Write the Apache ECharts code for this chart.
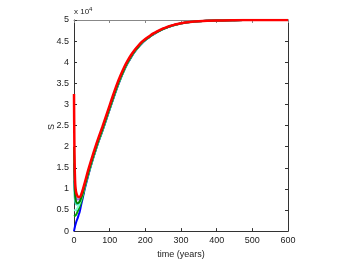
<!DOCTYPE html>
<html><head><meta charset="utf-8">
<script src="https://cdn.jsdelivr.net/npm/echarts@6/dist/echarts.min.js"></script>
<style>html,body{margin:0;padding:0;background:#fff}#c{width:350px;height:264px}</style>
</head><body><div id="c"></div>
<script>
var times = [0,1,2,3,4,6,8,10,13,16,20,25,30,40,50,60,70,80,90,100,110,120,130,140,150,160,170,180,190,200,210,220,230,240,250,260,270,280,290,300,325,350,400,450,500,550,600];
var blueS = [0,400,800,1200,1500,2100,2600,3000,3800,4600,6200,8000,9900,13200,16180,18910,21460,23800,26300,28800,31300,33740,35960,37940,39660,41140,42420,43500,44440,45220,45860,46460,46970,47420,47840,48180,48480,48750,48970,49170,49500,49690,49867,49945,49990,50000,50000];
var greenLowS = [3500,3550,3600,3650,3700,3900,4200,4600,5200,5900,6900,8400,10350,13415,16320,19040,21580,23925,26425,28925,31425,33860,36065,38035,39740,41210,42480,43550,44485,45255,45890,46490,46990,47440,47860,48195,48495,48760,48980,49180,49510,49695,49870,49945,49990,50000,50000];
var cyanS = [5000,5000,4950,4950,4950,5000,5200,5500,6000,6600,7500,8900,10500,13570,16460,19170,21700,24050,26550,29050,31550,33980,36170,38130,39820,41280,42540,43600,44530,45290,45920,46520,47015,47465,47880,48210,48510,48775,48990,49190,49514,49700,49870,49945,49990,50000,50000];
var aquaS = [12000,9500,8000,7200,6800,6400,6300,6350,6600,7000,7800,9200,10740,13820,16684,19378,21892,24250,26750,29250,31750,34172,36338,38282,39948,41392,42636,43680,44602,45346,45968,46568,47051,47501,47912,48234,48534,48795,49006,49206,49524,49705,49873,49948,49990,50000,50000];
var purpleS = [16000,12500,10200,9000,8300,7800,7600,7500,7500,7700,8300,9600,11040,14128,16964,19638,22132,24500,27000,29500,32000,34412,36548,38472,40108,41532,42756,43780,44692,45416,46028,46628,47096,47546,47952,48264,48564,48820,49026,49226,49536,49712,49876,49950,49990,50000,50000];
var greenHighS = [20000,14000,10500,8800,7800,7000,6700,6600,6700,7000,7800,9100,10650,13725,16600,19300,21820,24175,26675,29175,31675,34100,36275,38225,39900,41350,42600,43650,44575,45325,45950,46550,47037,47487,47900,48225,48525,48787,49000,49200,49520,49702,49872,49947,49990,50000,50000];
var redS = [32500,21000,15000,12000,10500,9200,8600,8250,8050,8050,8600,9900,11400,14500,17300,19950,22420,24800,27300,29800,32300,34700,36800,38700,40300,41700,42900,43900,44800,45500,46100,46700,47150,47600,48000,48300,48600,48850,49050,49250,49550,49720,49880,49950,49990,50000,50000];
var xTicks = [0,100,200,300,400,500,600];
var yTicks = [0,5000,10000,15000,20000,25000,30000,35000,40000,45000,50000];

function pairs(v){ return times.map(function(t,i){ return [t, v[i]]; }); }
function ser(v, color, w){
  return {type:'line', data:pairs(v), showSymbol:false, smooth:0.3,
    lineStyle:{color:color, width:w}, itemStyle:{color:color}, animation:false, z:2};
}
var font = 'Liberation Sans, Arial, sans-serif';
var axisCol = '#333';
var chart = echarts.init(document.getElementById('c'));
chart.setOption({
  animation:false,
  grid:{left:74, right:62, top:20, bottom:30},
  xAxis:[{type:'value', min:0, max:600, interval:100, position:'bottom',
      name:'time (years)', nameLocation:'middle', nameGap:18,
      nameTextStyle:{fontFamily:font, fontSize:9, color:'#222'},
      axisLine:{show:true, lineStyle:{color:axisCol}},
      axisTick:{show:true, inside:true, length:3, lineStyle:{color:axisCol}},
      axisLabel:{fontFamily:font, fontSize:9, color:'#222', margin:5},
      splitLine:{show:false}},
    {type:'value', min:0, max:600, interval:100, position:'top',
      axisLine:{show:true, onZero:false, lineStyle:{color:'#888'}},
      axisTick:{show:true, inside:true, length:3, lineStyle:{color:'#888'}},
      axisLabel:{show:false}, splitLine:{show:false}}],
  yAxis:[{type:'value', min:0, max:50000, interval:5000, position:'left',
      axisLine:{show:true, lineStyle:{color:axisCol}},
      axisTick:{show:true, inside:true, length:3, lineStyle:{color:axisCol}},
      axisLabel:{fontFamily:font, fontSize:9, color:'#222', margin:5,
        formatter:function(v){ return String(v/10000); }},
      splitLine:{show:false}},
    {type:'value', min:0, max:50000, interval:5000, position:'right',
      axisLine:{show:true, onZero:false, lineStyle:{color:axisCol}},
      axisTick:{show:true, inside:true, length:3, lineStyle:{color:axisCol}},
      axisLabel:{show:false}, splitLine:{show:false}}],
  graphic:[{type:'text', left:74, top:6,
    style:{text:'{a|x 10}{b|4}', rich:{a:{fontFamily:font, fontSize:8, fill:'#222'}, b:{fontFamily:font, fontSize:6, fill:'#222', verticalAlign:'top', padding:[0,0,5,0]}}}},
    {type:'text', x:52, y:127, rotation:Math.PI/2,
    style:{text:'S', fontFamily:font, fontSize:9, fill:'#222', align:'center', verticalAlign:'middle'}}],
  series:[
    ser(blueS, '#0000ff', 2),
    ser(greenLowS, '#00a000', 2),
    ser(cyanS, '#7fffd4', 2),
    ser(aquaS, '#40e0c0', 2),
    ser(purpleS, '#9370db', 2),
    ser(greenHighS, '#008000', 2),
    ser(redS, '#ff0000', 2.5)
  ]
});
</script></body></html>
